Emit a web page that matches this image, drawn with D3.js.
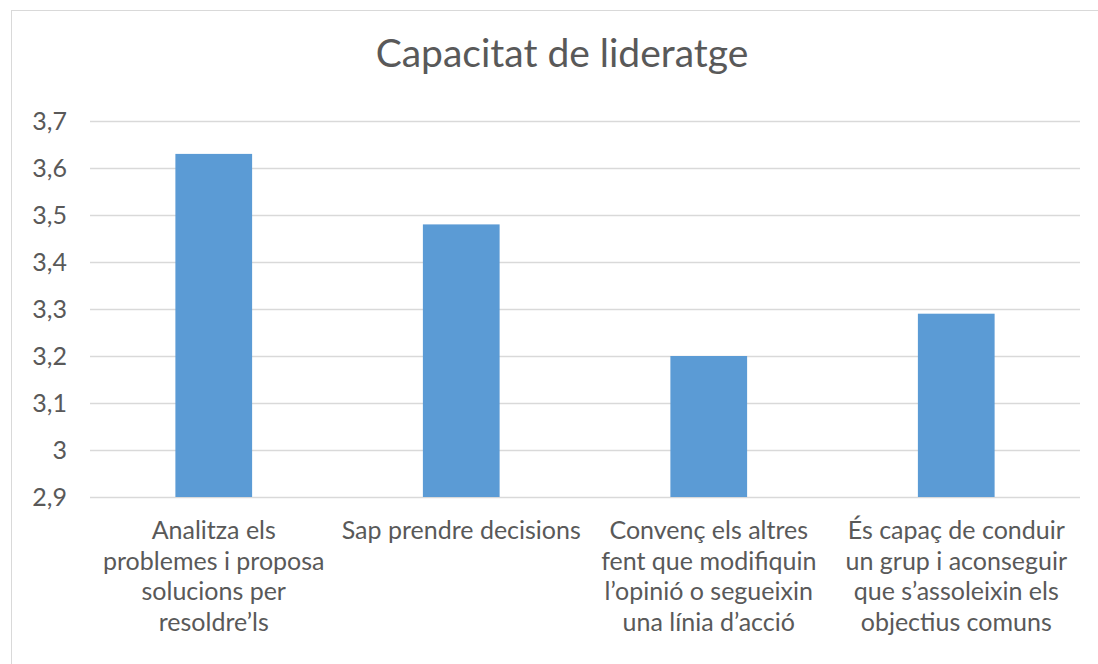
<!DOCTYPE html>
<html>
<head>
<meta charset="utf-8">
<script src="https://cdn.jsdelivr.net/npm/d3@7"></script>
<style>
  body { margin: 0; background: #fff; }
  text { font-family: Lato, "Open Sans", sans-serif; fill: #595959; }
</style>
</head>
<body>
<div id="wrapper"></div>
<script>
// data
const title = 'Capacitat de lideratge';
const categories = [
  'Analitza els\nproblemes i proposa\nsolucions per\nresoldre’ls',
  'Sap prendre decisions',
  'Convenç els altres\nfent que modifiquin\nl’opinió o segueixin\nuna línia d’acció',
  'És capaç de conduir\nun grup i aconseguir\nque s’assoleixin els\nobjectius comuns'
];
const values = [3.63, 3.48, 3.2, 3.29];
const yTicks = [2.9, 3, 3.1, 3.2, 3.3, 3.4, 3.5, 3.6, 3.7];

const dims = {
  width: 1098,
  height: 664,
  margin: { top: 121, right: 18, bottom: 167, left: 90 }
};
dims.boundW = dims.width - dims.margin.left - dims.margin.right;
dims.boundH = dims.height - dims.margin.top - dims.margin.bottom;

const svg = d3.select('#wrapper').append('svg')
  .attr('width', dims.width)
  .attr('height', dims.height);

// chart frame
svg.append('rect')
  .attr('x', 11.5).attr('y', 10.5)
  .attr('width', 1110).attr('height', 680)
  .attr('fill', 'none')
  .attr('stroke', '#d9d9d9');

svg.append('text')
  .attr('x', 562)
  .attr('y', 67)
  .attr('text-anchor', 'middle')
  .style('font-size', '39px')
  .text(title);

const bounds = svg.append('g')
  .attr('transform', `translate(${dims.margin.left},${dims.margin.top})`);

const yScale = d3.scaleLinear()
  .domain([2.9, 3.7])
  .range([dims.boundH, 0]);

const xScale = d3.scaleBand()
  .domain(d3.range(categories.length))
  .range([0, dims.boundW])
  .paddingInner(0.69)
  .paddingOuter(0.345);

const fmt = d => String(d).replace('.', ',');

// grid + y labels
const yAxis = bounds.append('g')
  .call(d3.axisLeft(yScale)
    .tickValues(yTicks)
    .tickSize(-dims.boundW)
    .tickPadding(23)
    .tickFormat(fmt));
yAxis.select('.domain').remove();
yAxis.selectAll('.tick line').attr('stroke', '#d9d9d9').attr('stroke-width', 1.3);
yAxis.selectAll('.tick text')
  .style('font-size', '25px')
  .attr('fill', '#595959');

// bars
bounds.append('g').selectAll('rect')
  .data(values)
  .join('rect')
  .attr('x', (d, i) => xScale(i))
  .attr('width', xScale.bandwidth())
  .attr('y', d => yScale(d))
  .attr('height', d => dims.boundH - yScale(d))
  .attr('fill', '#5b9bd5');

// category labels
const labels = bounds.append('g').selectAll('text')
  .data(categories)
  .join('text')
  .attr('text-anchor', 'middle')
  .attr('transform', (d, i) => `translate(${xScale(i) + xScale.bandwidth() / 2},${dims.boundH + 42})`)
  .style('font-size', '25px');

labels.each(function(d) {
  const lines = d.split('\n');
  d3.select(this).selectAll('tspan')
    .data(lines)
    .join('tspan')
    .attr('x', 0)
    .attr('y', (l, j) => j * 30.5)
    .text(l => l);
});
</script>
</body>
</html>
